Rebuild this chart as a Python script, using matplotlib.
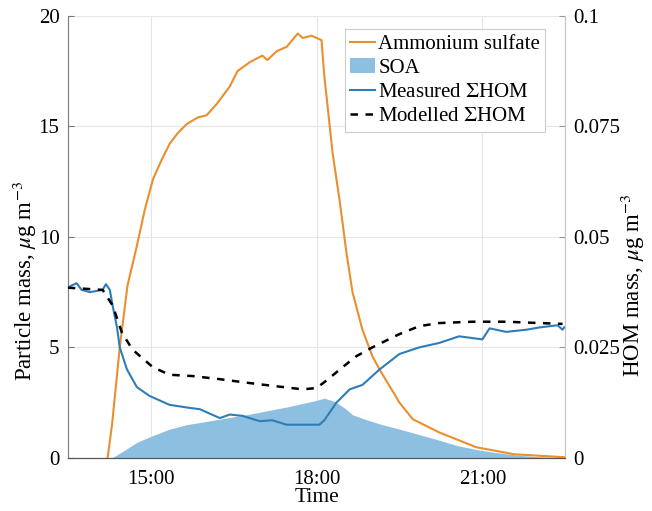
import matplotlib
matplotlib.use('Agg')
import matplotlib.pyplot as plt
from matplotlib.patches import Patch
from matplotlib.lines import Line2D

plt.rcParams['font.family'] = ['Liberation Serif', 'DejaVu Serif']
plt.rcParams['mathtext.fontset'] = 'stix'
plt.rcParams['font.size'] = 15

# ---------------------------------------------------------------------------
# Data (time in decimal hours)
# ---------------------------------------------------------------------------
as_t = [14.22, 14.30, 14.44, 14.58, 14.75, 14.89, 15.04, 15.20, 15.34, 15.49,
        15.65, 15.85, 16.01, 16.19, 16.43, 16.57, 16.79, 17.02, 17.11, 17.28,
        17.46, 17.66, 17.75, 17.91, 18.00, 18.09, 18.14, 18.29, 18.42, 18.54,
        18.65, 18.83, 19.01, 19.14, 19.50, 19.74, 20.22, 20.89, 21.58, 22.48]
as_v = [0.0, 1.5, 5.0, 7.8, 9.6, 11.2, 12.6, 13.5, 14.2, 14.7,
        15.1, 15.4, 15.5, 16.0, 16.8, 17.5, 17.9, 18.2, 18.0, 18.4,
        18.6, 19.2, 19.0, 19.1, 19.0, 18.9, 17.3, 13.8, 11.6, 9.3,
        7.5, 5.8, 4.6, 4.0, 2.5, 1.75, 1.15, 0.48, 0.16, 0.03]

soa_t = [14.30, 14.53, 14.75, 14.98, 15.34, 15.65, 16.25, 16.84, 17.46, 18.00,
         18.14, 18.33, 18.51, 18.65, 18.87, 19.19, 19.50, 19.86, 20.22, 20.55,
         20.95, 21.24, 21.58, 21.92, 22.48]
soa_v = [0.0, 0.35, 0.7, 0.95, 1.3, 1.5, 1.75, 2.0, 2.3, 2.6,
         2.7, 2.55, 2.25, 1.95, 1.75, 1.5, 1.3, 1.05, 0.8, 0.55,
         0.35, 0.24, 0.14, 0.06, 0.01]

hom_t = [13.50, 13.57, 13.66, 13.75, 13.90, 14.04, 14.13, 14.19, 14.26, 14.31,
         14.39, 14.44, 14.57, 14.75, 14.98, 15.16, 15.34, 15.65, 15.89, 16.07,
         16.25, 16.43, 16.66, 16.97, 17.20, 17.46, 17.82, 18.05, 18.14, 18.36,
         18.60, 18.83, 19.14, 19.50, 19.86, 20.22, 20.58, 21.00, 21.13, 21.43,
         21.80, 22.03, 22.36, 22.45, 22.48]
hom_v = [0.0385, 0.0390, 0.0395, 0.0380, 0.0375, 0.0378, 0.0380, 0.0393, 0.0380, 0.0345,
         0.0295, 0.0250, 0.0200, 0.0160, 0.0140, 0.0130, 0.0120, 0.0114, 0.0110, 0.0100,
         0.0090, 0.0098, 0.0095, 0.0083, 0.0085, 0.0075, 0.0075, 0.0075, 0.0085, 0.0125,
         0.0155, 0.0165, 0.0200, 0.0235, 0.0250, 0.0260, 0.0275, 0.0268, 0.0293, 0.0285,
         0.0290, 0.0295, 0.0300, 0.0290, 0.0295]

mod_t = [13.50, 14.13, 14.31, 14.48, 14.67, 15.04, 15.34, 15.76, 16.25, 16.74,
         17.20, 17.75, 18.00, 18.18, 18.47, 18.72, 19.01, 19.50, 19.86, 20.22,
         20.82, 21.43, 22.03, 22.45]
mod_v = [0.0385, 0.0380, 0.0345, 0.0283, 0.0245, 0.0205, 0.0188, 0.0185, 0.0178, 0.0170,
         0.0163, 0.0155, 0.0158, 0.0175, 0.0205, 0.0230, 0.0250, 0.0280, 0.0298, 0.0305,
         0.0308, 0.0308, 0.0305, 0.0303]

xticks = [15, 18, 21]
xtick_labels = ['15:00', '18:00', '21:00']

c_as = '#EB8E2E'
c_soa = '#8DBFE0'
c_hom = '#2F7DB8'

# ---------------------------------------------------------------------------
# Plot
# ---------------------------------------------------------------------------
fig = plt.figure(figsize=(6.52, 5.11), dpi=100)
ax = fig.add_axes([0.104, 0.104, 0.763, 0.865])

ax.fill_between(soa_t, soa_v, 0, color=c_soa, lw=0, zorder=1)
ax.plot(as_t, as_v, color=c_as, lw=1.5, zorder=2)
ax.set_xlim(13.5, 22.5)
ax.set_ylim(0, 20)
ax.set_yticks([0, 5, 10, 15, 20])
ax.set_xticks(xticks)
ax.set_xticklabels(xtick_labels)
ax.set_ylabel(r'Particle mass, $\mu$g m$^{-3}$', fontsize=16.5)
ax.yaxis.set_label_coords(-0.057, 0.40)
ax.set_xlabel('Time', fontsize=15.5)
ax.xaxis.set_label_coords(0.5, -0.068)
ax.grid(True, color='#e6e6e6', lw=0.8)
ax.set_axisbelow(True)
ax.tick_params(direction='in', length=4, color='#777777', labelsize=15, pad=6)
ax.tick_params(axis='x', pad=9)

ax2 = ax.twinx()
ax2.plot(hom_t, hom_v, color=c_hom, lw=1.5, zorder=3)
ax2.plot(mod_t, mod_v, color='black', lw=1.8, ls=(0, (3, 3)), zorder=4)
ax2.set_ylim(0, 0.1)
ax2.set_yticks([0, 0.025, 0.05, 0.075, 0.1])
ax2.set_yticklabels(['0', '0.025', '0.05', '0.075', '0.1'])
ax2.set_ylabel(r'HOM mass, $\mu$g m$^{-3}$', fontsize=16.5)
ax2.yaxis.set_label_coords(1.107, 0.39)
ax2.tick_params(direction='in', length=4, color='#999999', labelsize=15, pad=6)

for a in (ax, ax2):
    a.spines['top'].set_visible(False)
    a.spines['left'].set_color('#808080')
    a.spines['bottom'].set_color('#555555')
    a.spines['right'].set_color('#c8c8c8')

handles = [
    Line2D([], [], color=c_as, lw=1.5),
    Patch(facecolor=c_soa, edgecolor='none'),
    Line2D([], [], color=c_hom, lw=1.5),
    Line2D([], [], color='black', lw=1.8, ls=(0, (3, 3))),
]
labels = ['Ammonium sulfate', 'SOA', r'Measured $\Sigma$HOM', r'Modelled $\Sigma$HOM']
leg = ax2.legend(handles, labels, loc='upper right', bbox_to_anchor=(0.96, 0.97),
                 frameon=True, fancybox=False, edgecolor='#cccccc', framealpha=1,
                 fontsize=15, handlelength=1.2, handletextpad=0.15,
                 borderpad=0.25, labelspacing=0.22, borderaxespad=0)
leg.get_frame().set_linewidth(0.8)

plt.savefig('out.png', dpi=100)
